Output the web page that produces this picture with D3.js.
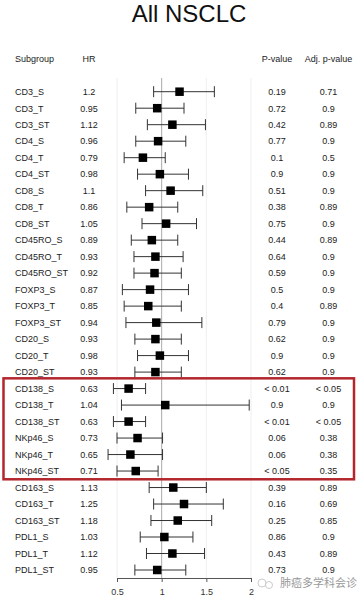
<!DOCTYPE html>
<html><head><meta charset="utf-8">
<script src="https://cdn.jsdelivr.net/npm/d3@7"></script>
<style>body{margin:0;background:#fff}svg{display:block}</style>
</head><body><svg id="c" width="360" height="600"></svg>
<script>
const subgroups = ["CD3_S","CD3_T","CD3_ST","CD4_S","CD4_T","CD4_ST","CD8_S","CD8_T","CD8_ST","CD45RO_S","CD45RO_T","CD45RO_ST","FOXP3_S","FOXP3_T","FOXP3_ST","CD20_S","CD20_T","CD20_ST","CD138_S","CD138_T","CD138_ST","NKp46_S","NKp46_T","NKp46_ST","CD163_S","CD163_T","CD163_ST","PDL1_S","PDL1_T","PDL1_ST"];
const hr = [1.2,0.95,1.12,0.96,0.79,0.98,1.1,0.86,1.05,0.89,0.93,0.92,0.87,0.85,0.94,0.93,0.98,0.93,0.63,1.04,0.63,0.73,0.65,0.71,1.13,1.25,1.18,1.03,1.12,0.95];
const ciLow = [0.91,0.71,0.84,0.71,0.58,0.73,0.82,0.61,0.78,0.66,0.69,0.69,0.56,0.58,0.6,0.7,0.73,0.7,0.46,0.55,0.46,0.5,0.4,0.5,0.86,0.91,0.88,0.76,0.83,0.7];
const ciHigh = [1.59,1.25,1.49,1.27,1.04,1.3,1.46,1.18,1.39,1.18,1.24,1.22,1.3,1.22,1.45,1.22,1.3,1.22,0.82,1.98,0.82,1.01,1.01,0.96,1.5,1.69,1.56,1.35,1.48,1.27];
const pValues = ["0.19","0.72","0.42","0.77","0.1","0.9","0.51","0.38","0.75","0.44","0.64","0.59","0.5","0.4","0.79","0.62","0.9","0.62","< 0.01","0.9","< 0.01","0.06","0.06","< 0.05","0.39","0.16","0.25","0.86","0.43","0.73"];
const adjP = ["0.71","0.9","0.89","0.9","0.5","0.9","0.9","0.89","0.9","0.89","0.9","0.9","0.9","0.89","0.9","0.9","0.9","0.9","< 0.05","0.9","< 0.05","0.38","0.38","0.35","0.89","0.69","0.85","0.9","0.89","0.9"];
const xTicks = [0.5,1,1.5,2];
const highlighted = ["CD138_S","NKp46_ST"];

const svg = d3.select("#c");
const font = "Liberation Sans, Arial, sans-serif";
const x = d3.scaleLinear().domain([0.5,2]).range([117,251]);
const y = d3.scalePoint().domain(subgroups).range([91.7,570]);
const rowH = y.step();

svg.append("text").attr("x",189).attr("y",22).attr("text-anchor","middle")
  .attr("font-family",font).attr("font-size",24).attr("fill","#111").text("All NSCLC");

const hdr = [["Subgroup",15,"start"],["HR",89,"middle"],["P-value",277,"middle"],["Adj. p-value",328.5,"middle"]];
svg.selectAll(".hdr").data(hdr).join("text").attr("class","hdr")
  .attr("x",d=>d[1]).attr("y",62).attr("text-anchor",d=>d[2])
  .attr("font-family",font).attr("font-size",9).attr("fill","#222").text(d=>d[0]);

// faint grid
svg.selectAll(".grid").data([0.5,1.5,2]).join("line").attr("class","grid")
  .attr("x1",d=>x(d)).attr("x2",d=>x(d)).attr("y1",78).attr("y2",578)
  .attr("stroke","#eeeeee").attr("stroke-width",1);
svg.append("line").attr("x1",x(1)).attr("x2",x(1)).attr("y1",78).attr("y2",578)
  .attr("stroke","#aaaaaa").attr("stroke-width",1);

const rows = svg.selectAll(".row").data(subgroups).join("g").attr("class","row")
  .attr("transform",d=>`translate(0,${y(d)})`);
rows.append("text").attr("x",15).attr("y",3.3).attr("font-family",font).attr("font-size",9).attr("fill","#222").text(d=>d);
rows.append("text").attr("x",89).attr("y",3.3).attr("text-anchor","middle").attr("font-family",font).attr("font-size",9).attr("fill","#222").text((d,i)=>hr[i]);
rows.append("text").attr("x",277).attr("y",3.3).attr("text-anchor","middle").attr("font-family",font).attr("font-size",9).attr("fill","#222").text((d,i)=>pValues[i]);
rows.append("text").attr("x",328.5).attr("y",3.3).attr("text-anchor","middle").attr("font-family",font).attr("font-size",9).attr("fill","#222").text((d,i)=>adjP[i]);
rows.append("line").attr("x1",(d,i)=>x(ciLow[i])).attr("x2",(d,i)=>x(ciHigh[i])).attr("stroke","#333").attr("stroke-width",1);
rows.append("line").attr("x1",(d,i)=>x(ciLow[i])).attr("x2",(d,i)=>x(ciLow[i])).attr("y1",-5.5).attr("y2",5.5).attr("stroke","#333").attr("stroke-width",1);
rows.append("line").attr("x1",(d,i)=>x(ciHigh[i])).attr("x2",(d,i)=>x(ciHigh[i])).attr("y1",-5.5).attr("y2",5.5).attr("stroke","#333").attr("stroke-width",1);
rows.append("rect").attr("x",(d,i)=>x(hr[i])-4.25).attr("y",-4.25).attr("width",8.5).attr("height",8.5).attr("fill","#000");

// axis
const ax = svg.append("g").attr("transform","translate(0,578)")
  .call(d3.axisBottom(x).tickValues(xTicks).tickFormat(d=>String(d)).tickSize(4).tickSizeOuter(0));
ax.select(".domain").attr("stroke","#555");
ax.selectAll(".tick line").attr("stroke","#555");
ax.selectAll(".tick text").attr("font-family",font).attr("font-size",9).attr("fill","#333").attr("dy","1.1em");

// highlight box
const boxTop = y(highlighted[0]) - rowH/2 - 2;
const boxBot = y(highlighted[1]) + rowH/2;
svg.append("rect").attr("x",3.5).attr("y",boxTop).attr("width",350.5).attr("height",boxBot-boxTop)
  .attr("fill","none").attr("stroke","#b3262b").attr("stroke-width",2.5);

// watermark
svg.append("circle").attr("cx",262).attr("cy",583).attr("r",4).attr("fill","none").attr("stroke","#ccc");
svg.append("circle").attr("cx",269).attr("cy",585).attr("r",3.5).attr("fill","none").attr("stroke","#ccc");
svg.append("text").attr("x",280).attr("y",587).attr("font-family","Noto Sans CJK SC").attr("font-size",11)
  .attr("fill","#9a9a9a").text("肺癌多学科会诊");
</script></body></html>
